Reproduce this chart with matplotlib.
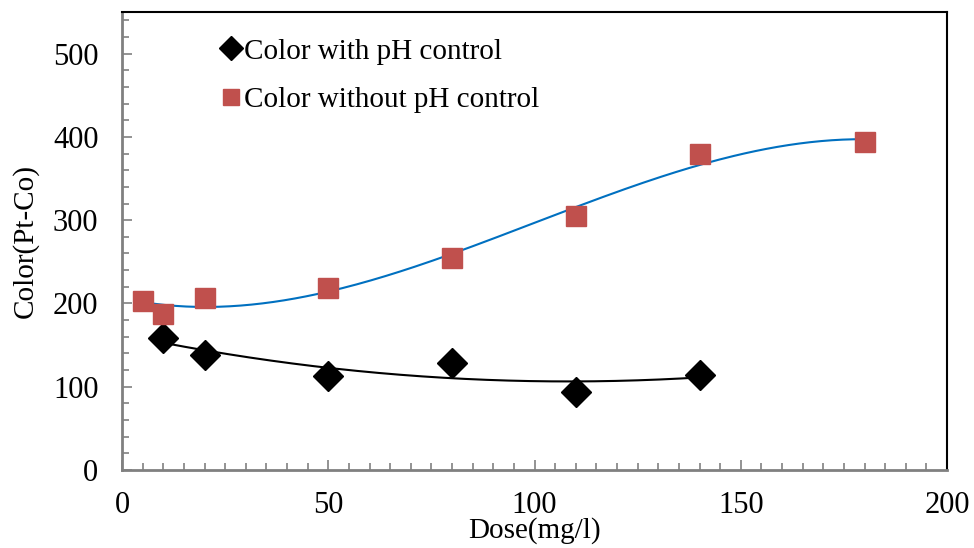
import matplotlib.pyplot as plt
import numpy as np

# data
dose_with = [10, 20, 50, 80, 110, 140]
color_with = [159, 138, 113, 129, 94, 114]

dose_without = [5, 10, 20, 50, 80, 110, 140, 180]
color_without = [203, 187, 207, 219, 255, 305, 379, 394]

plt.rcParams["font.family"] = ["Liberation Serif", "DejaVu Serif"]

fig = plt.figure(figsize=(9.74, 5.48), dpi=100)
ax = fig.add_axes([122 / 974, 1 - 470 / 548, 825 / 974, 458 / 548])

# polynomial trendlines (Excel-style)
xw = np.linspace(min(dose_with), max(dose_with), 200)
pw = np.polyfit(dose_with, color_with, 2)
ax.plot(xw, np.polyval(pw, xw), color="black", lw=1.5, zorder=2)

xo = np.linspace(min(dose_without), max(dose_without), 200)
po = np.polyfit(dose_without, color_without, 3)
ax.plot(xo, np.polyval(po, xo), color="#0070C0", lw=1.5, zorder=2)

ax.plot(dose_with, color_with, linestyle="none", marker="D", ms=15,
        color="black", label="Color with pH control", zorder=3)
ax.plot(dose_without, color_without, linestyle="none", marker="s", ms=15,
        color="#C0504D", label="Color without pH control", zorder=3)

ax.set_xlim(0, 200)
ax.set_ylim(0, 550)
ax.set_xticks([0, 50, 100, 150, 200])
ax.set_yticks([0, 100, 200, 300, 400, 500])
ax.set_xticks(np.arange(0, 201, 5), minor=True)
ax.set_yticks(np.arange(0, 551, 20), minor=True)

ax.tick_params(axis="both", which="both", direction="in", color="#808080",
               labelsize=22)
ax.tick_params(axis="both", which="major", length=7, width=1.2)
ax.tick_params(axis="both", which="minor", length=5, width=1.2)
ax.tick_params(axis="x", pad=15)
ax.tick_params(axis="y", pad=17)

for side in ["left", "bottom"]:
    ax.spines[side].set_color("#808080")
    ax.spines[side].set_linewidth(2)
for side in ["top", "right"]:
    ax.spines[side].set_color("black")
    ax.spines[side].set_linewidth(1.5)

ax.set_xlabel("Dose(mg/l)", fontsize=21, labelpad=-2)
ax.set_ylabel("Color(Pt-Co)", fontsize=21, labelpad=10)

ax.legend(loc="upper left", bbox_to_anchor=(0.09, 1.0), frameon=False,
          fontsize=21, handlelength=0.6, handletextpad=0.15, markerscale=0.8,
          labelspacing=0.75)

fig.savefig("out.png", dpi=100)
